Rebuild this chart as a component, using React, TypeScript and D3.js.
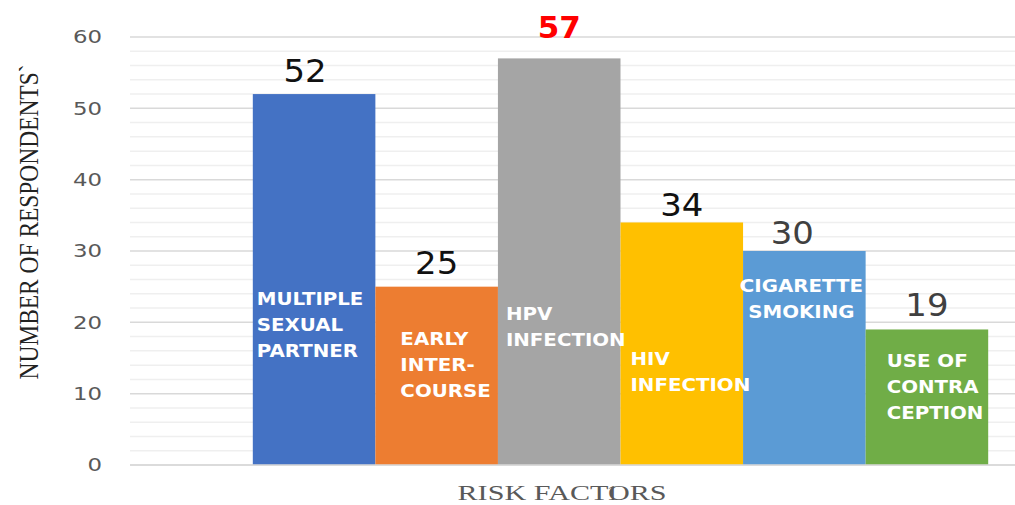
import React, { useEffect, useRef } from 'react';
import * as d3 from 'd3';

// single category on the x axis, six series
const categories = ['1'];
const seriesNames = ['MULTIPLE SEXUAL PARTNER', 'EARLY INTERCOURSE', 'HPV INFECTION', 'HIV INFECTION', 'CIGARETTE SMOKING', 'USE OF CONTRACEPTION'];
const seriesValues = [52, 25, 57, 34, 30, 19];
const innerLabels = [
  ['MULTIPLE', 'SEXUAL', 'PARTNER'],
  ['EARLY', 'INTER-', 'COURSE'],
  ['HPV', 'INFECTION'],
  ['HIV', 'INFECTION'],
  ['CIGARETTE', 'SMOKING'],
  ['USE OF', 'CONTRA', 'CEPTION'],
];
const yTicks = [0, 10, 20, 30, 40, 50, 60];

const palette = ['#4472C4', '#ED7D31', '#A5A5A5', '#FFC000', '#5B9BD5', '#70AD47'];
// manual placement of the white labels inside the bars: [dx from bar left, baseline value, anchor]
const innerLayout: [number, number, string][] = [
  [4, 22.4, 'start'],
  [25, 16.8, 'start'],
  [8, 20.3, 'start'],
  [10, 14.0, 'start'],
  [-3, 24.3, 'middle'],
  [21, 13.7, 'start'],
];
// value label nudges: [dx from bar centre, gap above bar top]
const valueLayout: [number, number][] = [[-9, 12], [0, 13], [0, 20], [0, 6], [-12, 7], [0, 13]];
const valueColors = ['#111', '#111', '#FF0000', '#111', '#404040', '#404040'];

function App() {
  const ref = useRef<SVGSVGElement>(null);

  useEffect(() => {
    document.body.style.margin = '0';
    const svg = d3.select(ref.current);
    svg.selectAll('*').remove();

    const left = 130, right = 1111, top = 37, bottom = 465;

    const x0 = d3.scaleBand().domain(categories).range([left, right]).paddingInner(0).paddingOuter(0.167);
    const x1 = d3.scaleBand().domain(seriesNames).range([0, x0.bandwidth()]).padding(0);
    const y = d3.scaleLinear().domain([0, 60]).range([bottom, top]);

    // stretched text helper
    const txt = (g: any, x: number, yy: number, s: string, anchor: string, sx: number) =>
      g.append('text')
        .attr('transform', `translate(${x},${yy}) scale(${sx},1)`)
        .attr('text-anchor', anchor)
        .text(s);

    // minor gridlines
    svg.append('g')
      .selectAll('line')
      .data(d3.range(0, 61, 2).filter(v => v % 10 !== 0))
      .enter().append('line')
      .attr('x1', left).attr('x2', 1015)
      .attr('y1', d => y(d)).attr('y2', d => y(d))
      .attr('stroke', '#efefef').attr('stroke-width', 1.5);

    // major gridlines
    svg.append('g')
      .selectAll('line')
      .data(yTicks)
      .enter().append('line')
      .attr('x1', left).attr('x2', 1015)
      .attr('y1', d => y(d)).attr('y2', d => y(d))
      .attr('stroke', '#d9d9d9').attr('stroke-width', 1.5);

    // y tick labels
    const tg = svg.append('g')
      .attr('font-family', 'DejaVu Sans')
      .attr('font-size', 18)
      .attr('fill', '#595959');
    yTicks.forEach(t => {
      txt(tg, 102, y(t), String(t), 'end', 1.27).attr('dy', '0.35em');
    });

    const cat = categories[0];
    const bx = (i: number) => (x0(cat) as number) + (x1(seriesNames[i]) as number);
    const bw = x1.bandwidth();

    // bars
    svg.append('g')
      .selectAll('rect')
      .data(seriesValues)
      .enter().append('rect')
      .attr('x', (d, i) => bx(i))
      .attr('y', d => y(d))
      .attr('width', bw)
      .attr('height', d => bottom - y(d))
      .attr('fill', (d, i) => palette[i]);

    // value labels
    const maxV = d3.max(seriesValues) as number;
    const vg = svg.append('g').attr('font-family', 'DejaVu Sans');
    seriesValues.forEach((v, i) => {
      const isMax = v === maxV;
      const [dx, gap] = valueLayout[i];
      txt(vg, bx(i) + bw / 2 + dx, y(v) - gap, String(v), 'middle', isMax ? 1.0 : 1.06)
        .attr('font-size', isMax ? 31 : 32)
        .attr('font-weight', isMax ? 'bold' : 'normal')
        .attr('fill', valueColors[i]);
    });

    // white labels inside bars
    const ig = svg.append('g')
      .attr('font-family', 'DejaVu Sans')
      .attr('font-weight', 'bold')
      .attr('font-size', 18)
      .attr('fill', '#ffffff');
    innerLabels.forEach((lines, i) => {
      const [dx, v, anchor] = innerLayout[i];
      const ax = anchor === 'middle' ? bx(i) + bw / 2 + dx : bx(i) + dx;
      lines.forEach((ln, j) => {
        txt(ig, ax, y(v) + j * 26, ln, anchor, 1.1);
      });
    });

    // x axis baseline
    svg.append('line')
      .attr('x1', left).attr('x2', 1015)
      .attr('y1', bottom).attr('y2', bottom)
      .attr('stroke', '#d9d9d9').attr('stroke-width', 1.5);

    // axis titles
    svg.append('text')
      .attr('x', 562).attr('y', 500)
      .attr('text-anchor', 'middle')
      .attr('font-family', 'Liberation Serif')
      .attr('font-size', 22)
      .attr('fill', '#595959')
      .attr('textLength', 209)
      .attr('lengthAdjust', 'spacingAndGlyphs')
      .text('RISK FACTORS');

    // category tick label
    svg.append('text')
      .attr('x', (x0(cat) as number) + x0.bandwidth() / 2 - 8)
      .attr('y', 500)
      .attr('text-anchor', 'middle')
      .attr('font-family', 'Liberation Serif')
      .attr('font-size', 22)
      .attr('fill', '#595959')
      .text(cat);

    svg.append('text')
      .attr('transform', 'translate(38,222) rotate(-90)')
      .attr('text-anchor', 'middle')
      .attr('font-family', 'Liberation Serif')
      .attr('font-size', 27)
      .attr('fill', '#222')
      .attr('textLength', 315)
      .attr('lengthAdjust', 'spacingAndGlyphs')
      .text('NUMBER OF RESPONDENTS`');
  }, []);

  return <svg ref={ref} width={1015} height={505} style={{ display: 'block', background: '#fff' }} />;
}

export default App;
